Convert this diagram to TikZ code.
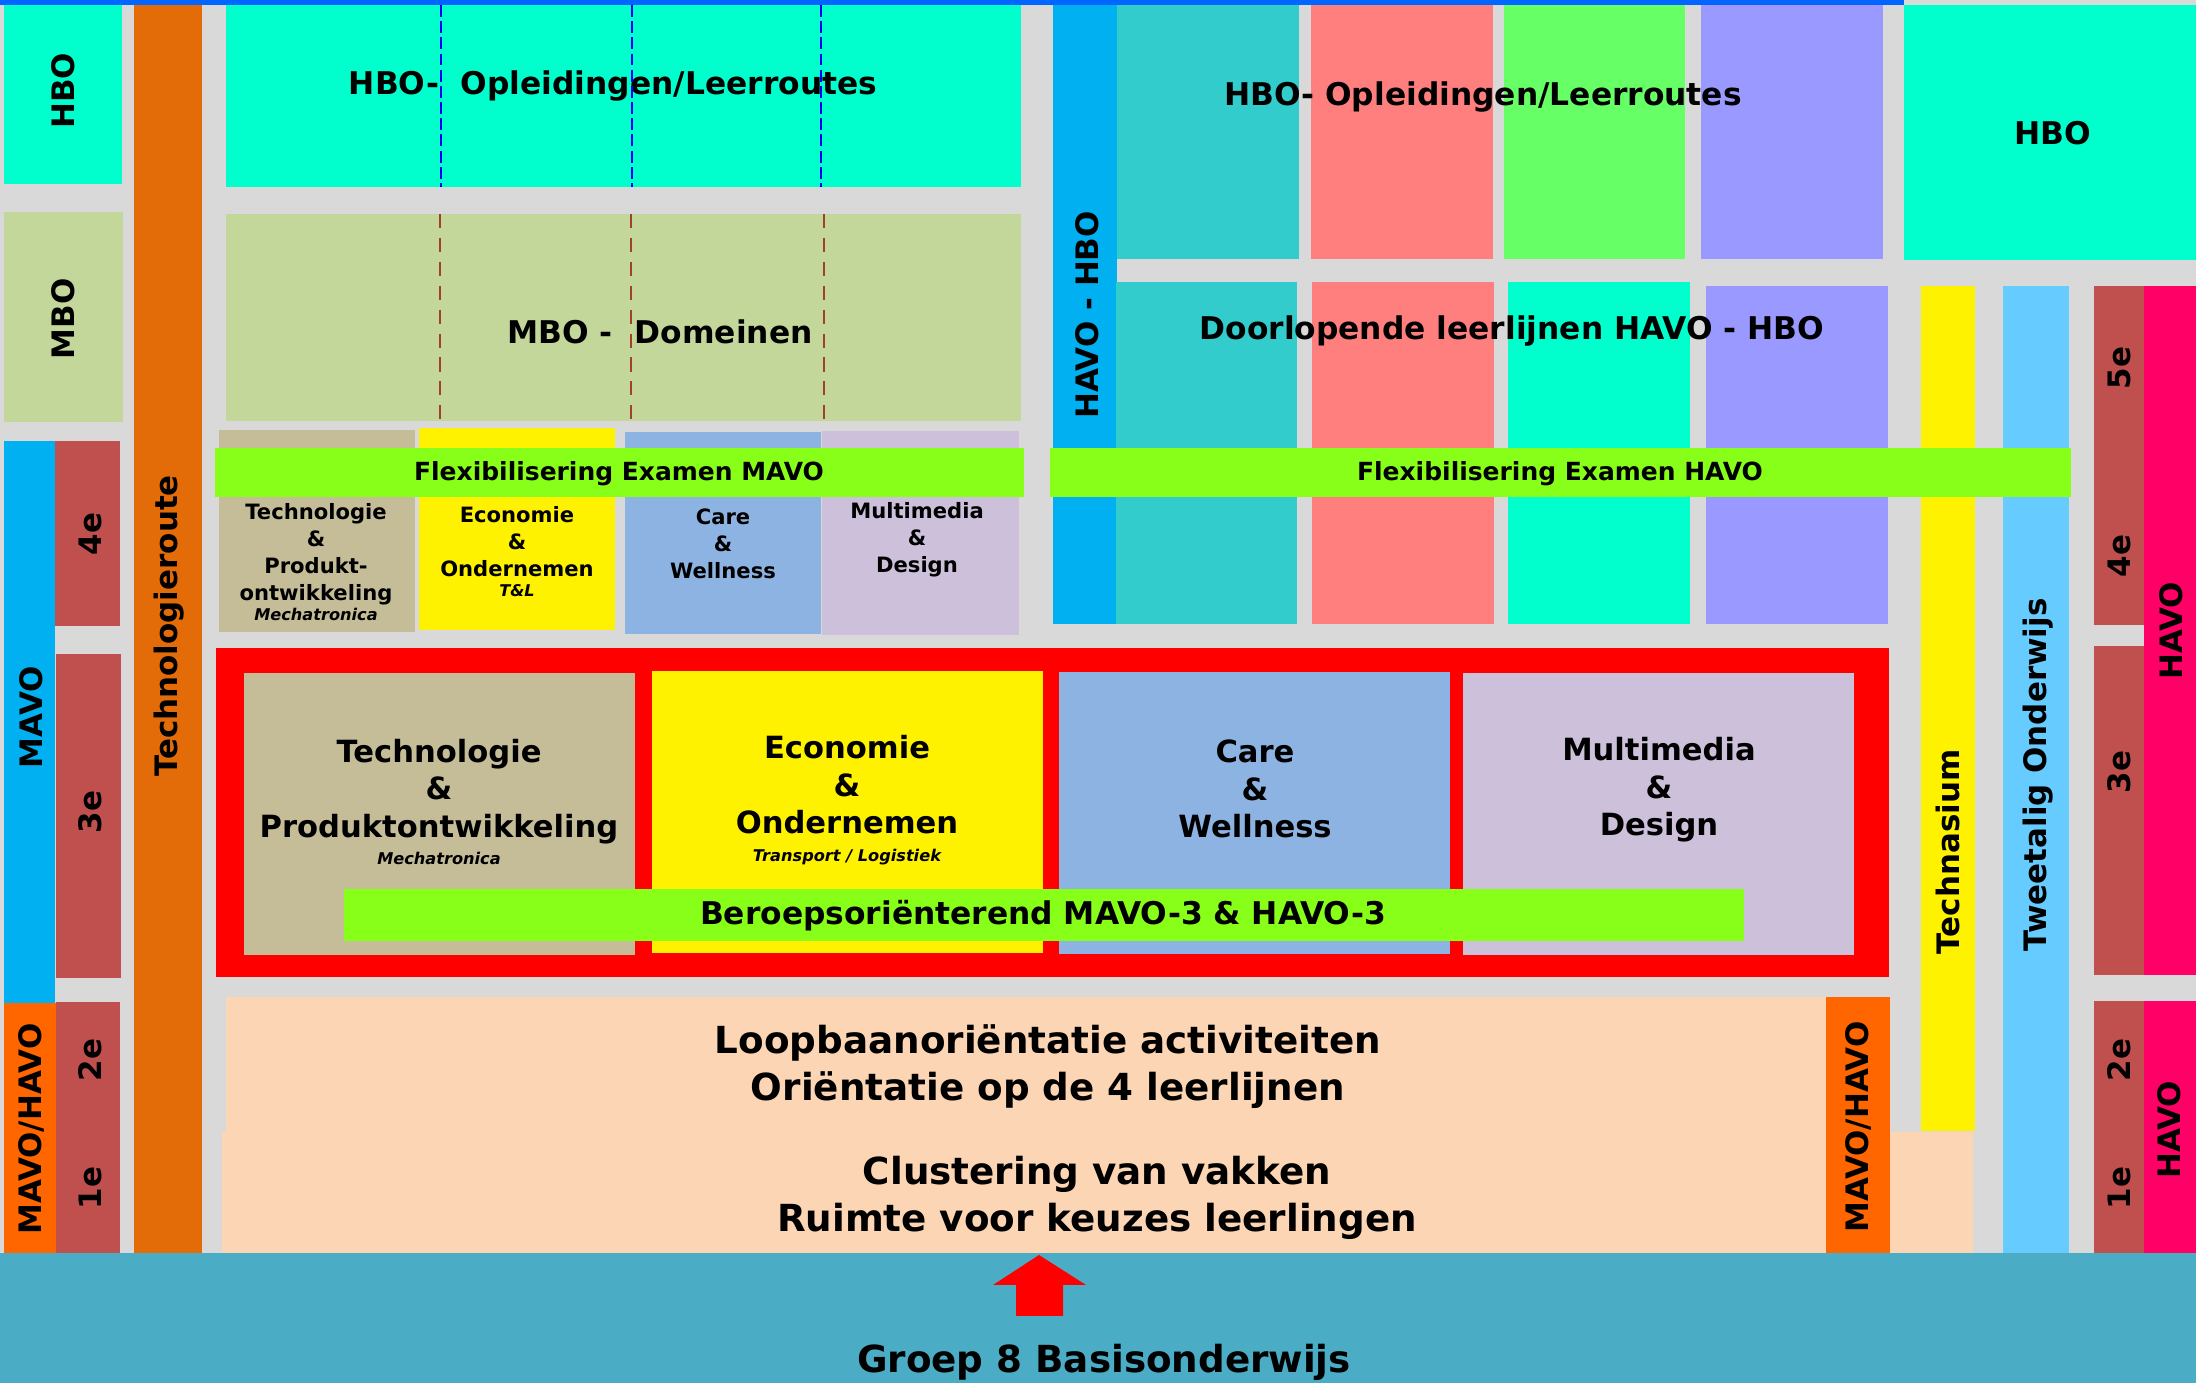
\documentclass[tikz,border=0pt]{standalone}
\usepackage{fontspec}
\newfontfamily\dvfont{DejaVu Sans}

\definecolor{gapgray}{HTML}{D9D9D9}
\definecolor{topblue}{HTML}{0066FF}
\definecolor{aqua}{HTML}{00FFCC}
\definecolor{mbogreen}{HTML}{C4D79B}
\definecolor{mavoblue}{HTML}{00B0F0}
\definecolor{yearred}{HTML}{C0504D}
\definecolor{mhorange}{HTML}{FF6600}
\definecolor{routeorange}{HTML}{E36C09}
\definecolor{tan}{HTML}{C4BD97}
\definecolor{careblue}{HTML}{8DB3E2}
\definecolor{lilac}{HTML}{CCC0DA}
\definecolor{flexgreen}{HTML}{88FF18}
\definecolor{tealc}{HTML}{33CCCC}
\definecolor{salmon}{HTML}{FF7F7F}
\definecolor{lightgreen}{HTML}{66FF66}
\definecolor{periwinkle}{HTML}{9999FF}
\definecolor{skyblue}{HTML}{66CCFF}
\definecolor{havopink}{HTML}{FF0066}
\definecolor{peach}{HTML}{FCD5B4}
\definecolor{bandblue}{HTML}{4BACC6}
\definecolor{dashred}{HTML}{A0422A}

\newcommand{\subtl}[1]{{\fontsize{4.6}{5.5}\selectfont\itshape #1}}

\tikzset{
  txt/.style={inner sep=0pt, align=center, font=\dvfont\bfseries\fontsize{8.9}{10.7}\selectfont},
  smalltxt/.style={txt, font=\dvfont\bfseries\fontsize{6.0}{7.7}\selectfont},
  bigtxt/.style={txt, font=\dvfont\bfseries\fontsize{8.7}{10.7}\selectfont},
  peachtxt/.style={txt, font=\dvfont\bfseries\fontsize{10.6}{13.4}\selectfont},
  flextxt/.style={txt, font=\dvfont\bfseries\fontsize{7.1}{8.5}\selectfont},
  rotlbl/.style={inner sep=0pt, rotate=90, font=\dvfont\bfseries\fontsize{8.8}{10.5}\selectfont},
  hbodash/.style={blue, line width=0.6pt, dash pattern=on 3.4pt off 1.2pt},
  mbodash/.style={dashred, line width=0.6pt, dash pattern=on 4pt off 2.8pt}
}

\begin{document}
\begin{tikzpicture}[x=0.01cm, y=-0.01cm]
    \useasboundingbox (0,0) rectangle (2196,1383);
    % Background and top line
    \fill[gapgray] (0,0) rectangle (2196,1383);
    \fill[topblue] (0,0) rectangle (1904,5);

    % Left column: levels and years
    \fill[aqua] (4,5) rectangle (122,184);
    \fill[mbogreen] (4,212) rectangle (123,422);
    \fill[mavoblue] (4,441) rectangle (55,1003);
    \fill[yearred] (55,441) rectangle (120,626);
    \fill[yearred] (56,654) rectangle (121,978);
    \fill[mhorange] (4,1003) rectangle (56,1253);
    \fill[yearred] (56,1002) rectangle (120,1253);
    \fill[routeorange] (134,5) rectangle (202,1253);

    % HBO and MBO blocks
    \fill[aqua] (226,5) rectangle (1021,187);
    \fill[mbogreen] (226,214) rectangle (1021,421);

    % Small MAVO boxes and exam bar
    \fill[tan] (219,430) rectangle (415,632);
    \fill[yellow] (419,428) rectangle (615,630);
    \fill[careblue] (625,432) rectangle (821,634);
    \fill[lilac] (822,431) rectangle (1019,635);
    \fill[flexgreen] (215,448) rectangle (1024,497);

    % HAVO - HBO columns
    \fill[mavoblue] (1053,5) rectangle (1117,624);
    \fill[tealc] (1117,5) rectangle (1299,259);
    \fill[salmon] (1311,5) rectangle (1493,259);
    \fill[lightgreen] (1504,5) rectangle (1685,259);
    \fill[periwinkle] (1701,5) rectangle (1883,259);
    \fill[aqua] (1904,5) rectangle (2196,260);
    \fill[tealc] (1116,282) rectangle (1297,624);
    \fill[salmon] (1312,282) rectangle (1494,624);
    \fill[aqua] (1508,282) rectangle (1690,624);
    \fill[periwinkle] (1706,286) rectangle (1888,624);

    % Right column
    \fill[yellow] (1921,286) rectangle (1975,1131);
    \fill[skyblue] (2003,286) rectangle (2069,1253);
    \fill[yearred] (2094,286) rectangle (2144,625);
    \fill[yearred] (2094,646) rectangle (2144,975);
    \fill[havopink] (2144,286) rectangle (2196,975);
    \fill[yearred] (2094,1001) rectangle (2144,1253);
    \fill[havopink] (2144,1001) rectangle (2196,1253);
    \fill[flexgreen] (1050,448) rectangle (2071,497);

    % Red frame with four routes
    \fill[red] (216,648) rectangle (1889,977);
    \fill[tan] (244,673) rectangle (635,955);
    \fill[yellow] (652,671) rectangle (1043,953);
    \fill[careblue] (1059,672) rectangle (1450,954);
    \fill[lilac] (1463,673) rectangle (1854,955);
    \fill[flexgreen] (344,889) rectangle (1744,941);

    % Lower years
    \fill[peach] (226,997) -- (1890,997) -- (1890,1132) -- (1973,1132)
        -- (1973,1253) -- (222,1253) -- (222,1132) -- (226,1132) -- cycle;
    \fill[mhorange] (1826,997) rectangle (1890,1255);

    % Primary school band and arrow
    \fill[bandblue] (0,1253) rectangle (2196,1383);
    \coordinate (tip) at (1039,1255);
    \fill[red] (tip) -- (1086,1285) -- (1063,1285) -- (1063,1316)
        -- (1016,1316) -- (1016,1285) -- (993,1285) -- cycle;

    % Vertical labels
    \node[rotlbl] (hboL) at (63,91) {HBO};
    \node[rotlbl] (mboL) at (63,319) {MBO};
    \node[rotlbl] (mavoL) at (31,717) {MAVO};
    \node[rotlbl] (jr4L) at (90,534) {4e};
    \node[rotlbl] (jr3L) at (90,812) {3e};
    \node[rotlbl] (mhL) at (31,1129) {MAVO/HAVO};
    \node[rotlbl] (jr2L) at (90,1060) {2e};
    \node[rotlbl] (jr1L) at (90,1188) {1e};
    \node[rotlbl] (route) at (169,626) {Technologieroute};
    \node[rotlbl] (havohbo) at (1087,315) {HAVO - HBO};
    \node[rotlbl] (technasium) at (1948,852) {Technasium};
    \node[rotlbl] (tto) at (2038,775) {Tweetalig Onderwijs};
    \node[rotlbl] (jr5R) at (2119,368) {5e};
    \node[rotlbl] (jr4R) at (2119,556) {4e};
    \node[rotlbl] (jr3R) at (2119,772) {3e};
    \node[rotlbl] (havoR) at (2171,631) {HAVO};
    \node[rotlbl] (jr2R) at (2119,1060) {2e};
    \node[rotlbl] (jr1R) at (2119,1188) {1e};
    \node[rotlbl] (havoR2) at (2169,1130) {HAVO};
    \node[rotlbl] (mhR) at (1858,1127) {MAVO/HAVO};

    % Headings
    \node[txt] (hboM) at (613,86) {HBO-\ \ Opleidingen/Leerroutes};
    \node[txt] (mboM) at (660,332) {MBO -\ \ Domeinen};
    \node[txt] (hboH) at (1483,97) {HBO- Opleidingen/Leerroutes};
    \node[txt] (hboR) at (2053,133) {HBO};
    \node[txt] (doorl) at (1512,331) {Doorlopende leerlijnen HAVO - HBO};
    \node[flextxt] (flexM) at (619,474) {Flexibilisering Examen MAVO};
    \node[flextxt] (flexH) at (1560,474) {Flexibilisering Examen HAVO};

    % Small box texts
    \node[smalltxt] (techS) at (316,562) {Technologie\\\&\\Produkt-\\ontwikkeling\\[-2pt]\subtl{Mechatronica}};
    \node[smalltxt] (econS) at (517,552) {Economie\\\&\\Ondernemen\\[-2pt]\subtl{T\&L}};
    \node[smalltxt] (careS) at (723,544) {Care\\\&\\Wellness};
    \node[smalltxt] (multiS) at (917,540) {Multimedia\\\&\\Design};

    % Large box texts
    \node[bigtxt] (techB) at (439,802) {Technologie\\\&\\Produktontwikkeling\\[-3pt]\subtl{Mechatronica}};
    \node[bigtxt] (econB) at (847,800) {Economie\\\&\\Ondernemen\\[-3pt]\subtl{Transport / Logistiek}};
    \node[bigtxt] (careB) at (1255,789) {Care\\\&\\Wellness};
    \node[bigtxt] (multiB) at (1659,790) {Multimedia\\\&\\Design};
    \node[txt] (beroeps) at (1043,916) {Beroepsoriënterend MAVO-3 \& HAVO-3};

    % Lower years texts
    \node[peachtxt] (loop) at (1048,1067) {Loopbaanoriëntatie activiteiten\\Oriëntatie op de 4 leerlijnen};
    \node[peachtxt] (clust) at (1097,1198) {Clustering van vakken\\Ruimte voor keuzes leerlingen};
    \node[peachtxt, anchor=base] (groep) at (1104,1373) {Groep 8 Basisonderwijs};

    % Dashed dividers
    \foreach \x in {441,632,821}
        \draw[hbodash] (\x,5) -- (\x,187);
    \foreach \x in {440,631,824}
        \draw[mbodash] (\x,214) -- (\x,421);
\end{tikzpicture}
\end{document}
